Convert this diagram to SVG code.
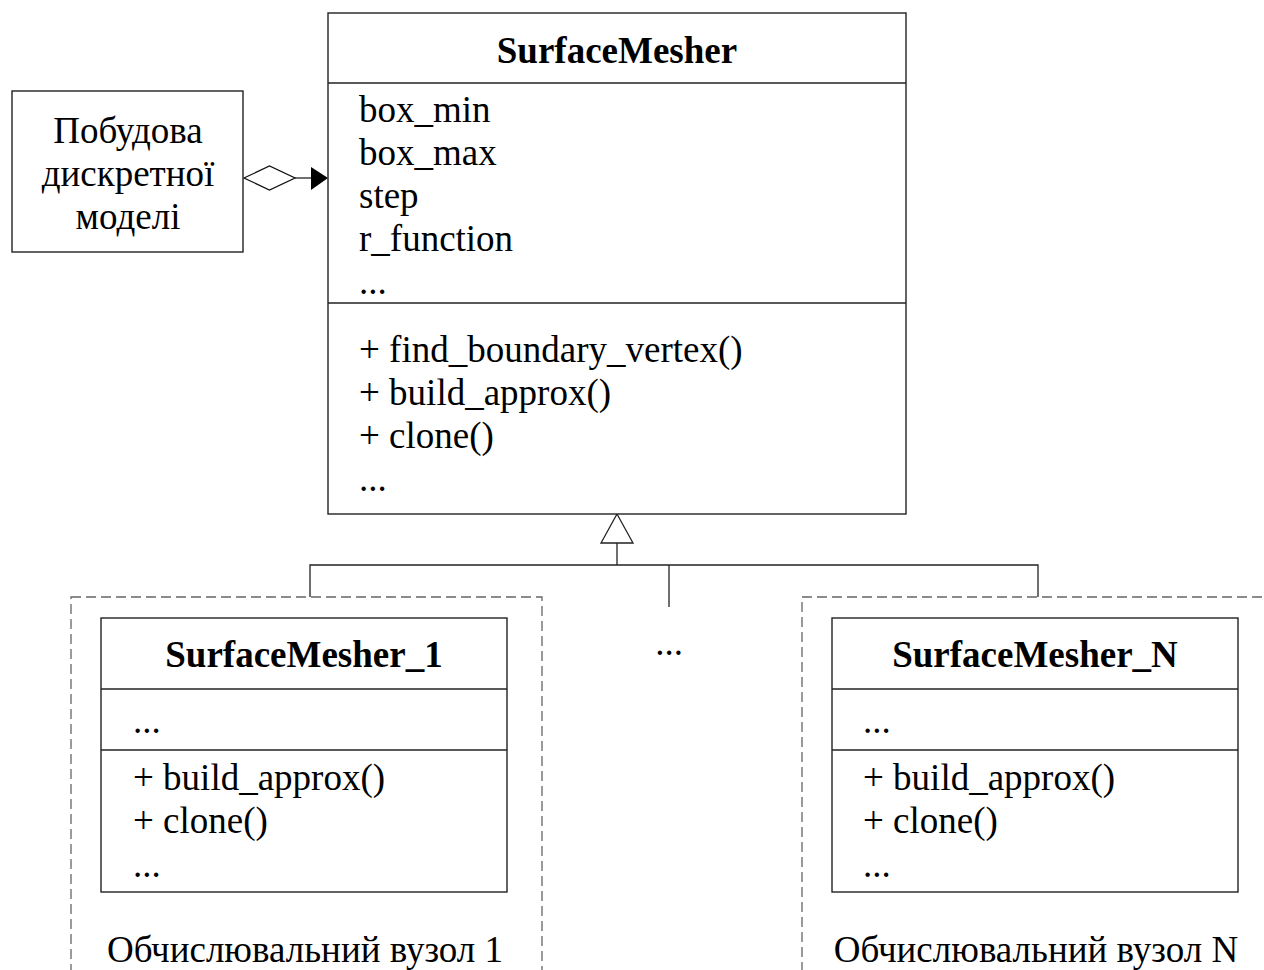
<svg xmlns="http://www.w3.org/2000/svg" width="1264" height="970" viewBox="0 0 1264 970">
  <defs>
    <style>
      .box { fill: #fff; stroke: #222; stroke-width: 1.4; }
      .div { stroke: #222; stroke-width: 1.4; }
      .ln { stroke: #222; stroke-width: 1.3; fill: none; }
      .dash { fill: none; stroke: #666; stroke-width: 1.3; stroke-dasharray: 10 5; }
      text { font-family: "Liberation Serif", "Times New Roman", serif; font-size: 37px; fill: #000; }
      .title { font-weight: bold; text-anchor: middle; }
      .mid { text-anchor: middle; }
    </style>
  </defs>

  <!-- computing node frames -->
  <g id="node1-frame">
    <rect class="dash" x="71" y="597" width="471" height="400"/>
    <text x="305" y="962" class="mid">Обчислювальний вузол 1</text>
  </g>
  <g id="nodeN-frame">
    <rect class="dash" x="802" y="597" width="500" height="400"/>
    <text x="1036" y="962" class="mid">Обчислювальний вузол N</text>
  </g>

  <!-- connectors -->
  <g id="connectors">
    <!-- aggregation -->
    <polygon points="244,178 269.5,166 295,178 269.5,190" fill="#fff" stroke="#111" stroke-width="1.3"/>
    <line class="ln" x1="295" y1="178" x2="312" y2="178"/>
    <polygon points="311,167 328,178 311,190" fill="#000"/>
    <!-- inheritance -->
    <polygon points="617,514 601,543 633,543" fill="#fff" stroke="#222" stroke-width="1.3"/>
    <line class="ln" x1="617" y1="543" x2="617" y2="565"/>
    <polyline class="ln" points="310,597 310,565 1038,565 1038,597"/>
    <line class="ln" x1="669" y1="565" x2="669" y2="607"/>
  </g>

  <!-- client -->
  <g id="client">
    <rect class="box" x="12" y="91" width="231" height="161"/>
    <text x="128" y="143" class="mid">Побудова</text>
    <text x="128" y="186" class="mid">дискретної</text>
    <text x="128" y="229" class="mid">моделі</text>
  </g>

  <!-- base class -->
  <g id="surface-mesher">
    <rect class="box" x="328" y="13" width="578" height="501"/>
    <line class="div" x1="328" y1="83" x2="906" y2="83"/>
    <line class="div" x1="328" y1="303" x2="906" y2="303"/>
    <text x="617" y="63" class="title">SurfaceMesher</text>
    <text x="359" y="122">box_min</text>
    <text x="359" y="165">box_max</text>
    <text x="359" y="208">step</text>
    <text x="359" y="251">r_function</text>
    <text x="359" y="294">...</text>
    <text x="359" y="362">+ find_boundary_vertex()</text>
    <text x="359" y="405">+ build_approx()</text>
    <text x="359" y="448">+ clone()</text>
    <text x="359" y="491">...</text>
  </g>

  <!-- subclass 1 -->
  <g id="surface-mesher-1">
    <rect class="box" x="101" y="618" width="406" height="274"/>
    <line class="div" x1="101" y1="689" x2="507" y2="689"/>
    <line class="div" x1="101" y1="750" x2="507" y2="750"/>
    <text x="304" y="667" class="title">SurfaceMesher_1</text>
    <text x="133" y="733">...</text>
    <text x="133" y="790">+ build_approx()</text>
    <text x="133" y="833">+ clone()</text>
    <text x="133" y="877">...</text>
  </g>

  <!-- ellipsis between subclasses -->
  <g id="more">
    <text x="669" y="655" class="mid">...</text>
  </g>

  <!-- subclass N -->
  <g id="surface-mesher-n">
    <rect class="box" x="832" y="618" width="406" height="274"/>
    <line class="div" x1="832" y1="689" x2="1238" y2="689"/>
    <line class="div" x1="832" y1="750" x2="1238" y2="750"/>
    <text x="1035" y="667" class="title">SurfaceMesher_N</text>
    <text x="863" y="733">...</text>
    <text x="863" y="790">+ build_approx()</text>
    <text x="863" y="833">+ clone()</text>
    <text x="863" y="877">...</text>
  </g>
</svg>
